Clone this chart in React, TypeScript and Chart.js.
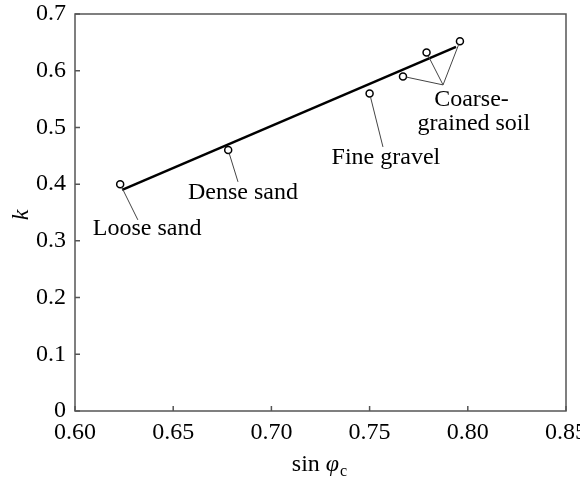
import React, { useEffect, useRef } from "react";
import { Chart, registerables } from "chart.js";
Chart.register(...registerables);

// ---- data ----
const sinPhi = [0.623, 0.678, 0.75, 0.767, 0.779, 0.796];
const kValues = [0.4, 0.46, 0.56, 0.59, 0.632, 0.652];
const fitX = [0.624, 0.794];
const fitY = [0.39, 0.642];
const xTickValues = [0.6, 0.65, 0.7, 0.75, 0.8, 0.85];
const yTickValues = [0, 0.1, 0.2, 0.3, 0.4, 0.5, 0.6, 0.7];
const soilNames = ["Loose sand", "Dense sand", "Fine gravel", "Coarse-", "grained soil"];

// annotation anchors in data units
const leaderEndsX = [0.632, 0.683, 0.7568, 0.7874];
const leaderEndsY = [0.337, 0.404, 0.4656, 0.575];
const textX = [0.6367, 0.6855, 0.7583, 0.8019, 0.8031];
const textY = [0.321, 0.3845, 0.446, 0.5485, 0.506];

const SERIF = '"Liberation Serif", "Times New Roman", serif';

const decorPlugin = {
  id: "decor",
  afterDatasetsDraw(chart: any) {
    const { ctx, chartArea: a, scales } = chart;
    const xs = scales.x;
    const ys = scales.y;
    ctx.save();
    // frame
    ctx.strokeStyle = "#555";
    ctx.lineWidth = 1.5;
    ctx.strokeRect(a.left, a.top, a.right - a.left, a.bottom - a.top);
    // inward ticks
    ctx.beginPath();
    xTickValues.forEach((v) => {
      const px = xs.getPixelForValue(v);
      ctx.moveTo(px, a.bottom);
      ctx.lineTo(px, a.bottom - 5);
    });
    yTickValues.forEach((v) => {
      const py = ys.getPixelForValue(v);
      ctx.moveTo(a.left, py);
      ctx.lineTo(a.left + 5, py);
    });
    ctx.stroke();

    // leader lines
    ctx.strokeStyle = "#444";
    ctx.lineWidth = 1;
    const r = 3.5;
    const leader = (i: number, ex: number, ey: number) => {
      const px = xs.getPixelForValue(sinPhi[i]);
      const py = ys.getPixelForValue(kValues[i]);
      const qx = xs.getPixelForValue(ex);
      const qy = ys.getPixelForValue(ey);
      const d = Math.hypot(qx - px, qy - py) || 1;
      ctx.beginPath();
      ctx.moveTo(px + ((qx - px) / d) * r, py + ((qy - py) / d) * r);
      ctx.lineTo(qx, qy);
      ctx.stroke();
    };
    leader(0, leaderEndsX[0], leaderEndsY[0]);
    leader(1, leaderEndsX[1], leaderEndsY[1]);
    leader(2, leaderEndsX[2], leaderEndsY[2]);
    leader(3, leaderEndsX[3], leaderEndsY[3]);
    leader(4, leaderEndsX[3], leaderEndsY[3]);
    leader(5, leaderEndsX[3], leaderEndsY[3]);

    // label texts
    ctx.fillStyle = "#000";
    ctx.font = `24px ${SERIF}`;
    ctx.textAlign = "center";
    ctx.textBaseline = "middle";
    soilNames.forEach((s, i) => {
      ctx.fillText(s, xs.getPixelForValue(textX[i]), ys.getPixelForValue(textY[i]));
    });

    // x title: sin φc
    ctx.textAlign = "left";
    ctx.textBaseline = "alphabetic";
    const f1 = `24px ${SERIF}`;
    const f2 = `italic 24px ${SERIF}`;
    const f3 = `16px ${SERIF}`;
    ctx.font = f1;
    const w1 = ctx.measureText("sin ").width;
    ctx.font = f2;
    const w2 = ctx.measureText("φ").width;
    ctx.font = f3;
    const w3 = ctx.measureText("c").width;
    const total = w1 + w2 + 1 + w3;
    const cx = (a.left + a.right) / 2 - 1;
    let x0 = cx - total / 2;
    const base = 471;
    ctx.font = f1;
    ctx.fillText("sin ", x0, base);
    x0 += w1;
    ctx.font = f2;
    ctx.fillText("φ", x0, base);
    x0 += w2 + 1;
    ctx.font = f3;
    ctx.fillText("c", x0, base + 5);

    // y title: k
    ctx.save();
    ctx.translate(22, 215);
    ctx.rotate(-Math.PI / 2);
    ctx.font = `italic 24px ${SERIF}`;
    ctx.textAlign = "center";
    ctx.textBaseline = "middle";
    ctx.fillText("k", 0, 0);
    ctx.restore();

    ctx.restore();
  },
};

export default function App() {
  const ref = useRef<HTMLCanvasElement | null>(null);
  useEffect(() => {
    document.body.style.margin = "0";
    const canvas = ref.current!;
    const chart = new Chart(canvas, {
      type: "scatter",
      data: {
        datasets: [
          {
            type: "scatter",
            data: sinPhi.map((x, i) => ({ x, y: kValues[i] })),
            pointStyle: "circle",
            pointRadius: 3.5,
            pointBorderWidth: 1.5,
            borderColor: "#000",
            backgroundColor: "#fff",
            pointBackgroundColor: "#fff",
            pointBorderColor: "#000",
          } as any,
          {
            type: "line",
            data: fitX.map((x, i) => ({ x, y: fitY[i] })),
            borderColor: "#000",
            borderWidth: 2.5,
            pointRadius: 0,
            fill: false,
          } as any,
        ],
      },
      options: {
        responsive: false,
        animation: false,
        events: [],
        layout: { padding: { left: 0, top: 14, right: 14, bottom: 0 } },
        plugins: { legend: { display: false }, tooltip: { enabled: false }, title: { display: false } },
        scales: {
          x: {
            type: "linear",
            min: 0.6,
            max: 0.85,
            grid: { display: false, drawTicks: false },
            border: { display: false },
            afterBuildTicks: (s: any) => {
              s.ticks = xTickValues.map((v) => ({ value: v }));
            },
            afterFit: (s: any) => {
              s.height = 66;
              s.paddingLeft = 0;
              s.paddingRight = 0;
            },
            ticks: {
              autoSkip: false,
              maxRotation: 0,
              padding: 7,
              color: "#000",
              font: { family: SERIF, size: 24 },
              callback: (v: any) => Number(v).toFixed(2),
            },
          },
          y: {
            type: "linear",
            min: 0,
            max: 0.7,
            grid: { display: false, drawTicks: false },
            border: { display: false },
            afterBuildTicks: (s: any) => {
              s.ticks = yTickValues.map((v) => ({ value: v }));
            },
            afterFit: (s: any) => {
              s.width = 75;
              s.paddingTop = 0;
              s.paddingBottom = 0;
            },
            ticks: {
              autoSkip: false,
              padding: 9,
              color: "#000",
              font: { family: SERIF, size: 24 },
              callback: (v: any) => (Number(v) === 0 ? "0" : Number(v).toFixed(1)),
            },
          },
        },
      },
      plugins: [decorPlugin],
    } as any);
    return () => chart.destroy();
  }, []);
  return (
    <div style={{ position: "absolute", left: 0, top: 0, width: 580, height: 477, background: "#fff" }}>
      <canvas ref={ref} width={580} height={477} style={{ display: "block" }} />
    </div>
  );
}
